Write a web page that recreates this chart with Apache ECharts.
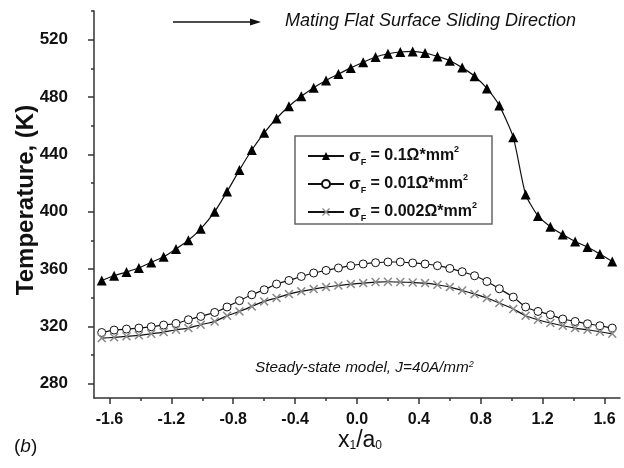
<!DOCTYPE html>
<html>
<head>
<meta charset="utf-8">
<script src="https://cdn.jsdelivr.net/npm/echarts@6/dist/echarts.min.js"></script>
<style>
html,body{margin:0;padding:0;background:#fff;}
#chart{width:624px;height:468px;}
</style>
</head>
<body>
<div id="chart"></div>
<script>
// ---- data ----
const xPositions = [-1.65, -1.57, -1.49, -1.41, -1.33, -1.25, -1.17, -1.09, -1.01, -0.92,
  -0.84, -0.76, -0.68, -0.60, -0.52, -0.44, -0.36, -0.28, -0.20, -0.12,
  -0.04, 0.04, 0.12, 0.20, 0.28, 0.36, 0.44, 0.52, 0.60, 0.68,
  0.76, 0.84, 0.92, 1.01, 1.09, 1.17, 1.25, 1.33, 1.41, 1.49,
  1.57, 1.65];
const tempSigma01 = [352, 355.3, 357.9, 360.7, 364.6, 368.5, 374, 380, 388, 400,
  414, 429, 443, 455, 465, 473.5, 480.5, 486.5, 491.5, 496,
  500.3, 504.2, 507.9, 510.2, 511.4, 511.8, 510.7, 508.3, 505.3, 500.5,
  494.5, 486, 474, 452, 412, 397, 389.5, 384, 379.2, 375.3,
  370.4, 365.3];
const tempSigma001 = [315.7, 317.4, 318.1, 318.8, 319.7, 320.9, 322, 324.6, 326.9, 329.7,
  333.5, 337.9, 342, 345.5, 349.5, 352, 354.8, 357.2, 359, 360.7,
  362.3, 363.5, 364.4, 364.9, 364.9, 364.2, 363.5, 362.3, 360.4, 358.1,
  355.3, 351.3, 346.2, 340.4, 333.5, 330.4, 328.1, 325.1, 323.4, 321.8,
  320.4, 318.8];
const tempSigma0002 = [311.8, 312.3, 313, 313.7, 314.8, 316, 317.6, 318.8, 321.1, 323.4,
  327.4, 330.4, 333.9, 337.4, 339.8, 342.5, 344.4, 346, 347.4, 348.5,
  349.5, 350.2, 350.9, 351.1, 350.9, 350.6, 350.2, 349, 347.4, 345,
  342.5, 339.8, 336.3, 332.1, 327.4, 324.6, 322.3, 320.4, 318.8, 317.6,
  316.2, 314.8];
const seriesNames = ['s01', 's001', 's0002'];
const legendLabels = ['0.1', '0.01', '0.002'];
const xTickLabels = [-1.6, -1.2, -0.8, -0.4, 0.0, 0.4, 0.8, 1.2, 1.6];
const xMinorTicks = [-1.4, -1.0, -0.6, -0.2, 0.2, 0.6, 1.0, 1.4];
const yTickLabels = [280, 320, 360, 400, 440, 480, 520];
const yMinorTicks = [300, 340, 380, 420, 460, 500, 540];

// ---- chart ----
const chart = echarts.init(document.getElementById('chart'), null, {renderer: 'canvas'});
const FONT = 'Liberation Sans, Arial, sans-serif';
const axisLineStyle = {color: '#333', width: 1.5};

function pairs(ys) { return xPositions.map((x, i) => [x, ys[i]]); }

const crossPath = 'path://M0,1.2L1.2,0L5,3.8L8.8,0L10,1.2L6.2,5L10,8.8L8.8,10L5,6.2L1.2,10L0,8.8L3.8,5Z';

const legendMap = {};
seriesNames.forEach((n, i) => {
  legendMap[n] = '{s|σ}{sub|F}{t| = ' + legendLabels[i] + 'Ω*mm}{sup|2}';
});

const option = {
  animation: false,
  backgroundColor: '#fff',
  grid: {left: 94, right: 4, top: 11, bottom: 70, containLabel: false, outerBoundsMode: 'none'},
  xAxis: [{
    type: 'value', min: -1.7, max: 1.7, position: 'bottom',
    axisLine: {show: true, onZero: false, lineStyle: axisLineStyle},
    axisTick: {show: true, inside: false, length: 6, customValues: xTickLabels, lineStyle: axisLineStyle},
    axisLabel: {customValues: xTickLabels, margin: 14, color: '#111', fontFamily: FONT, fontWeight: 'bold', fontSize: 16,
      formatter: v => v.toFixed(1)},
    splitLine: {show: false}
  }, {
    type: 'value', min: -1.7, max: 1.7, position: 'bottom',
    axisLine: {show: false, onZero: false},
    axisTick: {show: true, inside: false, length: 3, customValues: xMinorTicks, lineStyle: axisLineStyle},
    axisLabel: {show: false},
    splitLine: {show: false}
  }],
  yAxis: [{
    type: 'value', min: 270, max: 540, position: 'left',
    axisLine: {show: true, onZero: false, lineStyle: axisLineStyle},
    axisTick: {show: true, inside: false, length: 6, customValues: yTickLabels, lineStyle: axisLineStyle},
    axisLabel: {customValues: yTickLabels, margin: 26, color: '#111', fontFamily: FONT, fontWeight: 'bold', fontSize: 17},
    splitLine: {show: false}
  }, {
    type: 'value', min: 270, max: 540, position: 'left',
    axisLine: {show: false, onZero: false},
    axisTick: {show: true, inside: false, length: 3, customValues: yMinorTicks, lineStyle: axisLineStyle},
    axisLabel: {show: false},
    splitLine: {show: false}
  }],
  legend: {
    data: seriesNames,
    orient: 'vertical', left: 307, top: 145,
    itemWidth: 36, itemHeight: 10, itemGap: 6,
    padding: 0, z: 10,
    formatter: n => legendMap[n],
    textStyle: {
      color: '#111', fontFamily: FONT, fontSize: 16, fontWeight: 'bold',
      rich: {
        s: {fontFamily: FONT, fontSize: 17, fontWeight: 'bold', color: '#111', lineHeight: 22, verticalAlign: 'middle'},
        sub: {fontFamily: FONT, fontSize: 9, fontWeight: 'bold', color: '#111', lineHeight: 8, verticalAlign: 'bottom'},
        t: {fontFamily: FONT, fontSize: 16, fontWeight: 'bold', color: '#111', lineHeight: 22, verticalAlign: 'middle'},
        sup: {fontFamily: FONT, fontSize: 9, fontWeight: 'bold', color: '#111', lineHeight: 9, verticalAlign: 'top'}
      }
    }
  },
  series: [{
    name: seriesNames[0], type: 'line', data: pairs(tempSigma01),
    symbol: 'triangle', symbolSize: 10, smooth: 0.2,
    lineStyle: {color: '#111', width: 1.2},
    itemStyle: {color: '#000', borderWidth: 0}
  }, {
    name: seriesNames[1], type: 'line', data: pairs(tempSigma001),
    symbol: 'circle', symbolSize: 8, smooth: 0.2,
    lineStyle: {color: '#111', width: 1.2},
    itemStyle: {color: '#fff', borderColor: '#111', borderWidth: 1}
  }, {
    name: seriesNames[2], type: 'line', data: pairs(tempSigma0002),
    symbol: crossPath, symbolSize: 9, smooth: 0.2,
    lineStyle: {color: '#111', width: 1.2},
    itemStyle: {color: '#8a8a8a', borderWidth: 0}
  }],
  graphic: [
    {type: 'rect', z: 3, shape: {x: 295, y: 136, width: 197, height: 88},
      style: {fill: '#fff', stroke: '#666', lineWidth: 1.5}},
    {type: 'line', shape: {x1: 173, y1: 22, x2: 252, y2: 22}, style: {stroke: '#111', lineWidth: 1.5}},
    {type: 'polygon', shape: {points: [[250, 18.5], [261, 22], [250, 25.5]]}, style: {fill: '#111'}},
    {type: 'text', x: 26, y: 200, rotation: Math.PI / 2,
      style: {text: 'Temperature, (K)', fontFamily: FONT, fontWeight: 'bold', fontSize: 24, fill: '#111',
        align: 'center', verticalAlign: 'middle'}},
    {type: 'text', left: 285, top: 12,
      style: {text: 'Mating Flat Surface Sliding Direction', fontFamily: FONT, fontStyle: 'italic', fontSize: 18, fill: '#111'}},
    {type: 'text', left: 255, top: 360,
      style: {text: 'Steady-state model, J=40A/mm{sup|2}', fontFamily: FONT, fontStyle: 'italic', fontSize: 15.3, fill: '#111',
        rich: {sup: {fontFamily: FONT, fontStyle: 'italic', fontSize: 9, verticalAlign: 'top', lineHeight: 9}}}},
    {type: 'text', left: 338, top: 429,
      style: {text: 'x{sub|1}/a{sub|0}', fontFamily: FONT, fontSize: 23, fill: '#111',
        rich: {sub: {fontFamily: FONT, fontSize: 12, verticalAlign: 'bottom', lineHeight: 12}}}},
    {type: 'text', left: 14, top: 437,
      style: {text: '({i|b})', fontFamily: FONT, fontSize: 19, fill: '#111',
        rich: {i: {fontFamily: FONT, fontStyle: 'italic', fontSize: 19}}}}
  ]
};
chart.setOption(option);
</script>
</body>
</html>
